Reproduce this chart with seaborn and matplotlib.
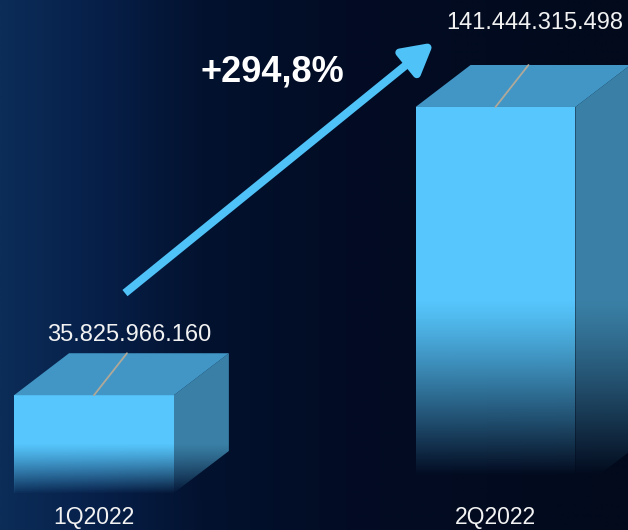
import numpy as np
import matplotlib
matplotlib.use("Agg")
import matplotlib.pyplot as plt
import seaborn as sns
from matplotlib.colors import LinearSegmentedColormap
from matplotlib.patches import Polygon
from matplotlib.transforms import blended_transform_factory

# data
quarters = ["1Q2022", "2Q2022"]
values = [35825966160, 141444315498]
value_labels = ["35.825.966.160", "141.444.315.498"]

# style
front_col = "#56c6fc"
top_col = "#4196c6"
side_col = "#3a80a6"
label_offsets = [(1.5, 5.0), (4.5, 22.0)]  # points, label above leader line end

sns.set_theme(style="white")
plt.rcParams["font.family"] = ["Liberation Sans", "DejaVu Sans"]

W, H = 628, 530
fig = plt.figure(figsize=(W / 100, H / 100), dpi=100)
ax = fig.add_axes([0, 0, 1, 1])

# background gradient (left lighter navy -> right near black)
bg_cmap = LinearSegmentedColormap.from_list(
    "bg", [(0, "#0b2d58"), (0.15, "#07204a"), (0.32, "#03122f"),
           (0.55, "#020c24"), (1, "#020a1c")])
ax.imshow(np.linspace(0, 1, 512)[None, :], cmap=bg_cmap, aspect="auto",
          extent=[0, 1, 0, 1], transform=ax.transAxes, zorder=0,
          interpolation="bilinear")

bn = [v / 1e9 for v in values]
sns.barplot(x=quarters, y=bn, color=front_col, saturation=1, width=0.398,
            ax=ax, zorder=2)

xlim = (-0.234, 1.330)
ylim = (-13.56, 180.65)
ax.set_xlim(*xlim)
ax.set_ylim(*ylim)
ax.set_axis_off()

# pixel -> data scale for the 3d depth
px_x = W / (xlim[1] - xlim[0])
px_y = H / (ylim[1] - ylim[0])
dx, dy = 55 / px_x, 42 / px_y
lx, ly = 33 / px_x, 42 / px_y

for i, p in enumerate(list(ax.patches)):
    x0, w, h = p.get_x(), p.get_width(), p.get_height()
    x1 = x0 + w
    side = Polygon([(x1, 0), (x1 + dx, dy), (x1 + dx, h + dy), (x1, h)],
                   fc=side_col, ec="none", zorder=1.9)
    top = Polygon([(x0, h), (x0 + dx, h + dy), (x1 + dx, h + dy), (x1, h)],
                  fc=top_col, ec="none", zorder=2.1)
    ax.add_patch(side)
    ax.add_patch(top)
    p.set_edgecolor("none")

    # fade the lower half of the box into the background colour behind it
    n, m = 256, 64
    t = np.linspace(0, 1, n)
    xs = np.linspace(x0, x1 + dx, m)
    xf = (xs - xlim[0]) / (xlim[1] - xlim[0])
    rgba = np.zeros((n, m, 4))
    rgba[:, :, :3] = bg_cmap(xf)[None, :, :3]
    rgba[:, :, 3] = (np.clip((1 - t) * 1.15, 0, 1) ** 1.2)[:, None]
    im = ax.imshow(rgba, origin="lower", aspect="auto",
                   extent=[x0, x1 + dx, -3, h * 0.5], zorder=2.5,
                   interpolation="bilinear")
    clip = Polygon([(x0, -3), (x1 + dx, -3), (x1 + dx, h + dy), (x1, h),
                    (x0, h)], transform=ax.transData)
    im.set_clip_path(clip)

    # leader line and value label
    cx = x0 + w / 2
    ax.plot([cx, cx + lx], [h, h + ly], color="#b0a898", lw=1.3, zorder=3)
    ax.annotate(value_labels[i], xy=(cx + lx, h + ly),
                xytext=label_offsets[i], textcoords="offset points",
                ha="center", va="bottom", color="#f2f2f2", fontsize=17,
                zorder=4)

ax.set_xlim(*xlim)
ax.set_ylim(*ylim)

# category labels under the boxes
trans = blended_transform_factory(ax.transData, ax.transAxes)
for i, q in enumerate(quarters):
    ax.text(i, 0.0245, q, transform=trans, ha="center", va="center",
            color="#f2f2f2", fontsize=16.5)

# growth arrow and percentage
pct = (values[1] / values[0] - 1) * 100
ax.annotate("", xy=(0.691, 0.920), xytext=(0.199, 0.447),
            xycoords="axes fraction", textcoords="axes fraction",
            arrowprops=dict(arrowstyle="-|>,head_length=0.9,head_width=0.5",
                            mutation_scale=20, lw=5.8, color="#4fc2f7",
                            shrinkA=0, shrinkB=0, capstyle="butt"),
            zorder=5)
ax.text(0.433, 0.864, f"+{pct:.1f}%".replace(".", ","), transform=ax.transAxes,
        ha="center", va="center", color="white", fontsize=26,
        fontweight="bold", zorder=5)

fig.savefig("out.png", dpi=100, facecolor="#020a1c")
